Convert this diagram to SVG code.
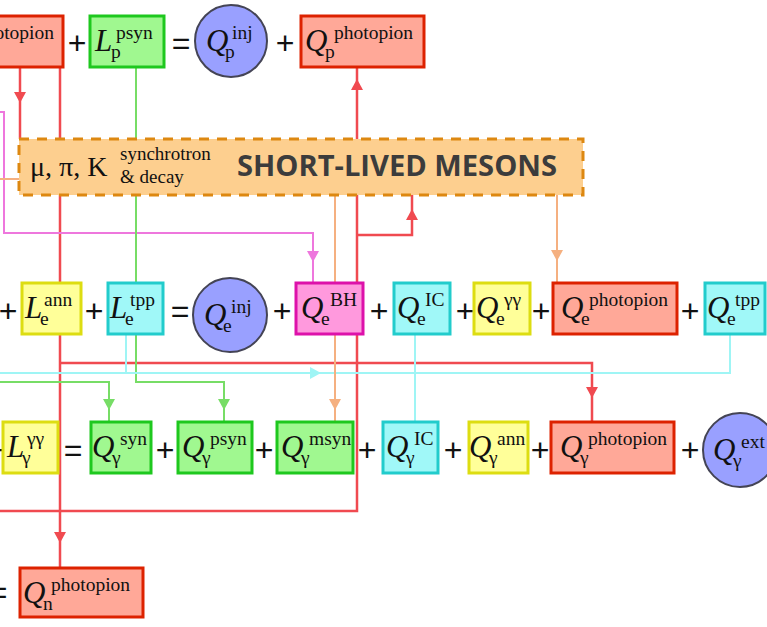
<svg xmlns="http://www.w3.org/2000/svg" width="767" height="627" viewBox="0 0 767 627">
  <defs>
    <path id="arr" d="M-6,-5 H6 L0,6 Z"/>
    <style>
      .bg{fill:#ffffff}
      .red{fill:#ffa898;stroke:#dd2200;stroke-width:3}
      .grn{fill:#a0f890;stroke:#1ec81e;stroke-width:3}
      .cyn{fill:#a0f8f8;stroke:#22cccc;stroke-width:3}
      .yel{fill:#ffff99;stroke:#dddd11;stroke-width:3}
      .mag{fill:#ff99dd;stroke:#dd11aa;stroke-width:3}
      .inj{fill:#99a0ff;stroke:#444455;stroke-width:2}
      .mes{fill:#fdcf8f;stroke:#dd8811;stroke-width:3;stroke-dasharray:10 8}
      .c{fill:none;stroke-width:2}
      .cr{stroke:#f04a50;stroke-width:2.5}
      .cp{stroke:#ee77dd}
      .cg{stroke:#77dd66}
      .cc{stroke:#9ff5f5}
      .co{stroke:#f5b080}
      .ar{fill:#f04a50}
      .ap{fill:#ee77dd}
      .ag{fill:#77dd66}
      .ac{fill:#9ff5f5}
      .ao{fill:#f5b080}
      text{font-family:"Liberation Serif","Times New Roman",serif;fill:#111}
      .m{font-family:"Liberation Serif","Times New Roman",serif;font-size:31px;font-style:italic}
      .s{font-family:"Liberation Serif","Times New Roman",serif;font-size:19.5px}
      .op{font-family:"Liberation Sans",Arial,sans-serif;font-size:32px;text-anchor:middle}
      .gk{font-family:"Liberation Serif","Times New Roman",serif;font-size:28px}
      .sm{font-family:"Liberation Serif","Times New Roman",serif;font-size:19px}
      .big{font-family:"Open Sans","Liberation Sans",sans-serif;font-weight:bold;font-size:28px;fill:#3c3c3c}
    </style>
  </defs>
  <rect class="bg" x="0" y="0" width="767" height="627"/>

  <!-- connectors -->
  <g id="connectors">
    <path class="c cr" d="M20,67 V139"/>
    <path class="c cr" d="M60,67 V568"/>
    <path class="c cr" d="M60,363 H592 V422"/>
    <path class="c cr" d="M357,67 V511 H0"/>
    <path class="c cr" d="M357,235 H412 V195"/>
    <path class="c cp" d="M0,112 H4 V233 H313 V283"/>
    <path class="c cg" d="M136,67 V382 H224 V422"/>
    <path class="c cg" d="M0,382 H109 V422"/>
    <path class="c cc" d="M126,334 V373"/>
    <path class="c cc" d="M0,373 H730 V334"/>
    <path class="c cc" d="M415,334 V422"/>
    <path class="c co" d="M0,179 H19"/>
    <path class="c co" d="M335,195 V422"/>
    <path class="c co" d="M557,195 V283"/>
    <use href="#arr" class="ar" transform="translate(20,97)"/>
    <use href="#arr" class="ar" transform="translate(60,537)"/>
    <use href="#arr" class="ar" transform="translate(592,392)"/>
    <use href="#arr" class="ar" transform="translate(357,85) rotate(180)"/>
    <use href="#arr" class="ar" transform="translate(412,215) rotate(180)"/>
    <use href="#arr" class="ap" transform="translate(313,256)"/>
    <use href="#arr" class="ag" transform="translate(109,404)"/>
    <use href="#arr" class="ag" transform="translate(224,404)"/>
    <use href="#arr" class="ao" transform="translate(335,404)"/>
    <use href="#arr" class="ao" transform="translate(557,255)"/>
    <use href="#arr" class="ac" transform="translate(315,373) rotate(-90)"/>
  </g>

  <!-- proton row -->
  <g id="n_p_photopion_l">
    <rect class="red" x="-10" y="16" width="73" height="51"/>
    <text class="s" x="54" y="39" text-anchor="end">photopion</text>
  </g>
  <text class="op" x="77" y="54">+</text>
  <g id="n_Lp_psyn">
    <rect class="grn" x="90" y="16" width="74" height="51"/>
    <text class="m" x="95" y="51">L</text><text class="s" x="111" y="58">p</text><text class="s" x="116" y="39">psyn</text>
  </g>
  <text class="op" x="181" y="54">=</text>
  <g id="n_Qp_inj">
    <circle class="inj" cx="231" cy="41" r="36"/>
    <text class="m" x="206" y="51">Q</text><text class="s" x="225" y="58">p</text><text class="s" x="232" y="39">inj</text>
  </g>
  <text class="op" x="285" y="54">+</text>
  <g id="n_Qp_photopion">
    <rect class="red" x="301" y="16" width="123" height="51"/>
    <text class="m" x="305" y="51">Q</text><text class="s" x="325" y="58">p</text><text class="s" x="334" y="39">photopion</text>
  </g>

  <!-- meson box -->
  <g id="n_mesons">
    <rect class="mes" x="19" y="139" width="564" height="56"/>
    <text class="gk" x="30" y="176">μ, π, K</text>
    <text class="sm" x="120" y="160">synchrotron</text>
    <text class="sm" x="120" y="183">&amp; decay</text>
    <text class="big" x="237" y="176" textLength="320" lengthAdjust="spacingAndGlyphs">SHORT-LIVED MESONS</text>
  </g>

  <!-- electron row -->
  <text class="op" x="8" y="322">+</text>
  <g id="n_Le_ann">
    <rect class="yel" x="22" y="283" width="59" height="51"/>
    <text class="m" x="25" y="318">L</text><text class="s" x="40" y="325">e</text><text class="s" x="44" y="306">ann</text>
  </g>
  <text class="op" x="94" y="322">+</text>
  <g id="n_Le_tpp">
    <rect class="cyn" x="108" y="283" width="55" height="51"/>
    <text class="m" x="110" y="318">L</text><text class="s" x="125" y="325">e</text><text class="s" x="130" y="306">tpp</text>
  </g>
  <text class="op" x="180" y="322">=</text>
  <g id="n_Qe_inj">
    <circle class="inj" cx="230" cy="315" r="37"/>
    <text class="m" x="204" y="325">Q</text><text class="s" x="223" y="332">e</text><text class="s" x="231" y="313">inj</text>
  </g>
  <text class="op" x="282" y="322">+</text>
  <g id="n_Qe_BH">
    <rect class="mag" x="296" y="283" width="67" height="51"/>
    <text class="m" x="301" y="318">Q</text><text class="s" x="321" y="325">e</text><text class="s" x="330" y="306">BH</text>
  </g>
  <text class="op" x="379" y="322">+</text>
  <g id="n_Qe_IC">
    <rect class="cyn" x="394" y="283" width="56" height="51"/>
    <text class="m" x="397" y="318">Q</text><text class="s" x="417" y="325">e</text><text class="s" x="425" y="306">IC</text>
  </g>
  <text class="op" x="465" y="322">+</text>
  <g id="n_Qe_gg">
    <rect class="yel" x="474" y="283" width="56" height="51"/>
    <text class="m" x="476" y="318">Q</text><text class="s" x="496" y="325">e</text><text class="s" x="504" y="306">γγ</text>
  </g>
  <text class="op" x="541" y="322">+</text>
  <g id="n_Qe_photopion">
    <rect class="red" x="553" y="283" width="124" height="51"/>
    <text class="m" x="561" y="318">Q</text><text class="s" x="581" y="325">e</text><text class="s" x="589" y="306">photopion</text>
  </g>
  <text class="op" x="690" y="322">+</text>
  <g id="n_Qe_tpp">
    <rect class="cyn" x="705" y="283" width="60" height="51"/>
    <text class="m" x="707" y="318">Q</text><text class="s" x="727" y="325">e</text><text class="s" x="735" y="306">tpp</text>
  </g>

  <!-- photon row -->
  <text class="op" x="-5" y="461">+</text>
  <g id="n_Lg_gg">
    <rect class="yel" x="3" y="422" width="55" height="51"/>
    <text class="m" x="7" y="457">L</text><text class="s" x="22" y="464">γ</text><text class="s" x="27" y="445">γγ</text>
  </g>
  <text class="op" x="73" y="461">=</text>
  <g id="n_Qg_syn">
    <rect class="grn" x="91" y="422" width="60" height="51"/>
    <text class="m" x="92" y="457">Q</text><text class="s" x="112" y="464">γ</text><text class="s" x="120" y="445">syn</text>
  </g>
  <text class="op" x="165" y="461">+</text>
  <g id="n_Qg_psyn">
    <rect class="grn" x="178" y="422" width="74" height="51"/>
    <text class="m" x="182" y="457">Q</text><text class="s" x="202" y="464">γ</text><text class="s" x="210" y="445">psyn</text>
  </g>
  <text class="op" x="264" y="461">+</text>
  <g id="n_Qg_msyn">
    <rect class="grn" x="277" y="422" width="76" height="51"/>
    <text class="m" x="281" y="457">Q</text><text class="s" x="301" y="464">γ</text><text class="s" x="309" y="445">msyn</text>
  </g>
  <text class="op" x="367" y="461">+</text>
  <g id="n_Qg_IC">
    <rect class="cyn" x="383" y="422" width="55" height="51"/>
    <text class="m" x="386" y="457">Q</text><text class="s" x="406" y="464">γ</text><text class="s" x="414" y="445">IC</text>
  </g>
  <text class="op" x="453" y="461">+</text>
  <g id="n_Qg_ann">
    <rect class="yel" x="469" y="422" width="59" height="51"/>
    <text class="m" x="469" y="457">Q</text><text class="s" x="489" y="464">γ</text><text class="s" x="497" y="445">ann</text>
  </g>
  <text class="op" x="540" y="461">+</text>
  <g id="n_Qg_photopion">
    <rect class="red" x="551" y="422" width="123" height="51"/>
    <text class="m" x="560" y="457">Q</text><text class="s" x="580" y="464">γ</text><text class="s" x="588" y="445">photopion</text>
  </g>
  <text class="op" x="690" y="461">+</text>
  <g id="n_Qg_ext">
    <circle class="inj" cx="740" cy="450" r="37"/>
    <text class="m" x="713" y="460">Q</text><text class="s" x="733" y="467">γ</text><text class="s" x="741" y="448">ext</text>
  </g>

  <!-- neutron row -->
  <text class="op" x="-2" y="603">=</text>
  <g id="n_Qn_photopion">
    <rect class="red" x="20" y="568" width="123" height="49"/>
    <text class="m" x="23" y="603">Q</text><text class="s" x="43" y="610">n</text><text class="s" x="51" y="591">photopion</text>
  </g>
</svg>
